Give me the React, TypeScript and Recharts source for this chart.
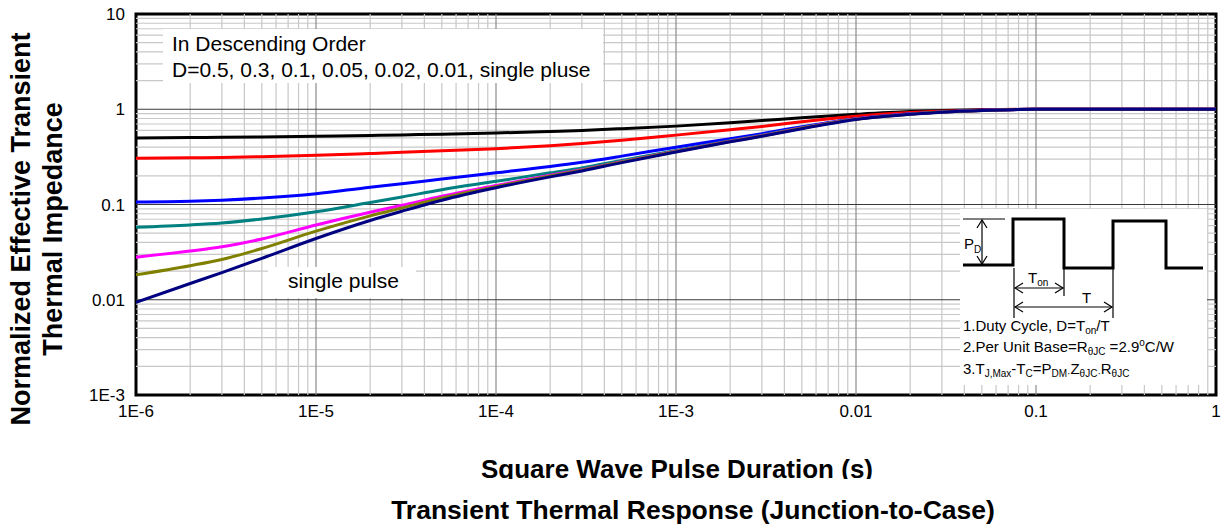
import React from "react";
import { LineChart, Line, XAxis, YAxis, ReferenceLine, ReferenceArea } from "recharts";

// Pulse durations (s) at which the curves are sampled
const durations = [1e-6, 2e-6, 3e-6, 5e-6, 1e-5, 2e-5, 3e-5, 5e-5, 1e-4, 2e-4, 3e-4, 5e-4, 1e-3, 2e-3, 3e-3, 5e-3, 1e-2, 2e-2, 3e-2, 5e-2, 0.1, 0.2, 0.5, 1];

// Normalized Zth for each duty cycle
const d050 = [0.5, 0.504, 0.507, 0.512, 0.52, 0.53, 0.538, 0.548, 0.563, 0.585, 0.6, 0.625, 0.665, 0.72, 0.76, 0.815, 0.884, 0.945, 0.968, 0.988, 1.0, 1.0, 1.0, 1.0];
const d030 = [0.305, 0.309, 0.312, 0.318, 0.328, 0.343, 0.353, 0.366, 0.385, 0.415, 0.437, 0.472, 0.535, 0.61, 0.66, 0.74, 0.845, 0.925, 0.955, 0.982, 1.0, 1.0, 1.0, 1.0];
const d010 = [0.106, 0.108, 0.111, 0.117, 0.13, 0.152, 0.165, 0.185, 0.215, 0.25, 0.277, 0.322, 0.4, 0.49, 0.555, 0.655, 0.795, 0.895, 0.937, 0.974, 1.0, 1.0, 1.0, 1.0];
const d005 = [0.0577, 0.061, 0.064, 0.0705, 0.084, 0.105, 0.12, 0.143, 0.175, 0.215, 0.242, 0.29, 0.37, 0.468, 0.535, 0.64, 0.79, 0.892, 0.935, 0.973, 1.0, 1.0, 1.0, 1.0];
const d002 = [0.028, 0.0325, 0.036, 0.0435, 0.061, 0.083, 0.098, 0.122, 0.158, 0.203, 0.232, 0.282, 0.363, 0.462, 0.528, 0.635, 0.788, 0.89, 0.934, 0.972, 1.0, 1.0, 1.0, 1.0];
const d001 = [0.0183, 0.0228, 0.0265, 0.0345, 0.0525, 0.076, 0.092, 0.117, 0.154, 0.199, 0.229, 0.279, 0.36, 0.458, 0.524, 0.632, 0.785, 0.888, 0.933, 0.972, 1.0, 1.0, 1.0, 1.0];
const singlePulse = [0.0094, 0.0148, 0.0193, 0.0272, 0.044, 0.068, 0.085, 0.111, 0.15, 0.195, 0.225, 0.275, 0.355, 0.455, 0.52, 0.625, 0.78, 0.885, 0.932, 0.971, 1.0, 1.0, 1.0, 1.0];

const seriesKeys = ["d050", "d030", "d010", "d005", "d002", "d001", "single"];
const seriesColors = ["#000000", "#ff0000", "#0000ff", "#008080", "#ff00ff", "#808000", "#000080"];

const xTicks = [1e-6, 1e-5, 1e-4, 1e-3, 1e-2, 1e-1, 1];
const xTickLabels = ["1E-6", "1E-5", "1E-4", "1E-3", "0.01", "0.1", "1"];
const yTicks = [1e-3, 1e-2, 1e-1, 1, 10];
const yTickLabels = ["1E-3", "0.01", "0.1", "1", "10"];

const mantissas = [2, 3, 4, 5, 6, 7, 8, 9];
const xDecades = [1e-6, 1e-5, 1e-4, 1e-3, 1e-2, 1e-1];
const yDecades = [1e-3, 1e-2, 1e-1, 1];

const rows = durations.map((t, i) => ({
  t,
  d050: d050[i],
  d030: d030[i],
  d010: d010[i],
  d005: d005[i],
  d002: d002[i],
  d001: d001[i],
  single: singlePulse[i],
}));

const xMinor = xDecades.flatMap((d) => mantissas.map((m) => +(d * m).toPrecision(3)));
const yMinor = yDecades.flatMap((d) => mantissas.map((m) => +(d * m).toPrecision(3)));
const xMajor = xTicks.slice(1, -1);
const yMajor = yTicks.slice(1, -1);

const FONT = "'Liberation Sans', Arial, Helvetica, sans-serif";

const fmt = (labels: string[], ticks: number[]) => (v: number) => {
  const i = ticks.findIndex((t) => Math.abs(t - v) / t < 1e-6);
  return i >= 0 ? labels[i] : "";
};

function Arrow({ x1, y1, x2, y2 }: { x1: number; y1: number; x2: number; y2: number }) {
  const a = 5;
  const horiz = y1 === y2;
  return (
    <g stroke="#000" strokeWidth={1.2} fill="none">
      <line x1={x1} y1={y1} x2={x2} y2={y2} />
      {horiz ? (
        <>
          <polyline points={`${x1 + a + 3},${y1 - a} ${x1},${y1} ${x1 + a + 3},${y1 + a}`} />
          <polyline points={`${x2 - a - 3},${y2 - a} ${x2},${y2} ${x2 - a - 3},${y2 + a}`} />
        </>
      ) : (
        <>
          <polyline points={`${x1 - a},${y1 + a + 3} ${x1},${y1} ${x1 + a},${y1 + a + 3}`} />
          <polyline points={`${x2 - a},${y2 - a - 3} ${x2},${y2} ${x2 + a},${y2 - a - 3}`} />
        </>
      )}
    </g>
  );
}

function Annotations() {
  const sub = { fontSize: 10 };
  return (
    <svg width={1230} height={531} style={{ position: "absolute", left: 0, top: 0, pointerEvents: "none" }} fontFamily={FONT}>
      <defs>
        <clipPath id="xlabelClip">
          <rect x={0} y={440} width={1230} height={39} />
        </clipPath>
      </defs>

      {/* duty-cycle list */}
      <rect x={163} y={29} width={440} height={54} fill="#fff" />
      <text x={172} y={51} fontSize={21} fill="#000">In Descending Order</text>
      <text x={172} y={77} fontSize={21} fill="#000">D=0.5, 0.3, 0.1, 0.05, 0.02, 0.01, single pluse</text>

      {/* single pulse tag */}
      <rect x={268} y={267} width={148} height={31} fill="#fff" />
      <text x={288} y={288} fontSize={21} fill="#000">single pulse</text>

      {/* pulse train inset */}
      <rect x={960} y={209} width={247} height={176} fill="#fff" />
      <polyline
        points="963,265 1013,265 1013,219 1064,219 1064,268 1113,268 1113,221 1166,221 1166,268 1203,268"
        fill="none"
        stroke="#000"
        strokeWidth={3}
      />
      <line x1={963} y1={219} x2={1005} y2={219} stroke="#000" strokeWidth={1.2} />
      <Arrow x1={982} y1={220} x2={982} y2={264} />
      <text x={964} y={249} fontSize={15} fill="#000">
        P<tspan dy={4} style={sub}>D</tspan>
      </text>
      <line x1={1014} y1={268} x2={1014} y2={318} stroke="#000" strokeWidth={1.2} />
      <line x1={1064} y1={268} x2={1064} y2={296} stroke="#000" strokeWidth={1.2} />
      <line x1={1113} y1={268} x2={1113} y2={318} stroke="#000" strokeWidth={1.2} />
      <Arrow x1={1015} y1={288} x2={1063} y2={288} />
      <Arrow x1={1015} y1={307} x2={1112} y2={307} />
      <text x={1028} y={283} fontSize={15} fill="#000">
        T<tspan dy={3} style={sub}>on</tspan>
      </text>
      <text x={1082} y={303} fontSize={15} fill="#000">T</text>

      <text x={963} y={331} fontSize={15} fill="#000">
        1.Duty Cycle, D=T<tspan dy={3} style={sub}>on</tspan>
        <tspan dy={-3}>/T</tspan>
      </text>
      <text x={963} y={352} fontSize={15} fill="#000">
        2.Per Unit Base=R<tspan dy={3} style={sub}>θJC</tspan>
        <tspan dy={-3}> =2.9</tspan>
        <tspan dy={-6} style={sub}>o</tspan>
        <tspan dy={6}>C/W</tspan>
      </text>
      <text x={963} y={374} fontSize={15} fill="#000">
        3.T<tspan dy={3} style={sub}>J,Max</tspan>
        <tspan dy={-3}>-T</tspan>
        <tspan dy={3} style={sub}>C</tspan>
        <tspan dy={-3}>=P</tspan>
        <tspan dy={3} style={sub}>DM</tspan>
        <tspan style={sub}>·</tspan>
        <tspan dy={-3}>Z</tspan>
        <tspan dy={3} style={sub}>θJC</tspan>
        <tspan style={sub}>·</tspan>
        <tspan dy={-3}>R</tspan>
        <tspan dy={3} style={sub}>θJC</tspan>
      </text>

      {/* axis titles */}
      <text transform="translate(30,229) rotate(-90)" textAnchor="middle" fontSize={27} fontWeight="bold" fill="#000">
        Normalized Effective Transient
      </text>
      <text transform="translate(62,229) rotate(-90)" textAnchor="middle" fontSize={27} fontWeight="bold" fill="#000">
        Thermal Impedance
      </text>
      <text x={677} y={478} textAnchor="middle" fontSize={26} fontWeight="bold" fill="#000" clipPath="url(#xlabelClip)">
        Square Wave Pulse Duration (s)
      </text>
      <text x={693} y={519} textAnchor="middle" fontSize={26.5} fontWeight="bold" fill="#000">
        Transient Thermal Response (Junction-to-Case)
      </text>
    </svg>
  );
}

export default function App() {
  return (
    <div style={{ position: "absolute", left: 0, top: 0, width: 1230, height: 531, background: "#fff" }}>
      <LineChart width={1230} height={531} data={rows} margin={{ top: 14, right: 14, bottom: 0, left: 0 }}>
        <XAxis
          dataKey="t"
          type="number"
          scale="log"
          domain={[1e-6, 1]}
          ticks={xTicks}
          tickFormatter={fmt(xTickLabels, xTicks)}
          allowDataOverflow
          axisLine={false}
          tickLine={false}
          tickSize={0}
          tickMargin={10}
          height={136}
          tick={{ fontSize: 17, fill: "#000", fontFamily: FONT }}
        />
        <YAxis
          type="number"
          scale="log"
          domain={[1e-3, 10]}
          ticks={yTicks}
          tickFormatter={fmt(yTickLabels, yTicks)}
          allowDataOverflow
          axisLine={false}
          tickLine={false}
          tickSize={0}
          tickMargin={11}
          width={136}
          tick={{ fontSize: 17, fill: "#000", fontFamily: FONT }}
        />
        {xMinor.map((v) => (
          <ReferenceLine key={"xm" + v} x={v} stroke="#c8c8c8" strokeWidth={1.2} ifOverflow="hidden" />
        ))}
        {yMinor.map((v) => (
          <ReferenceLine key={"ym" + v} y={v} stroke="#c8c8c8" strokeWidth={1.2} ifOverflow="hidden" />
        ))}
        {xMajor.map((v) => (
          <ReferenceLine key={"xM" + v} x={v} stroke="#8a8a8a" strokeWidth={1.2} ifOverflow="hidden" />
        ))}
        {yMajor.map((v) => (
          <ReferenceLine key={"yM" + v} y={v} stroke="#3a3a3a" strokeWidth={1.2} ifOverflow="hidden" />
        ))}
        {seriesKeys.map((k, i) => (
          <Line
            key={k}
            dataKey={k}
            type="monotone"
            stroke={seriesColors[i]}
            strokeWidth={3}
            dot={false}
            activeDot={false}
            isAnimationActive={false}
          />
        ))}
        <ReferenceArea x1={1e-6} x2={1} y1={1e-3} y2={10} fill="none" stroke="#000" strokeWidth={3} ifOverflow="visible" />
      </LineChart>
      <Annotations />
    </div>
  );
}
